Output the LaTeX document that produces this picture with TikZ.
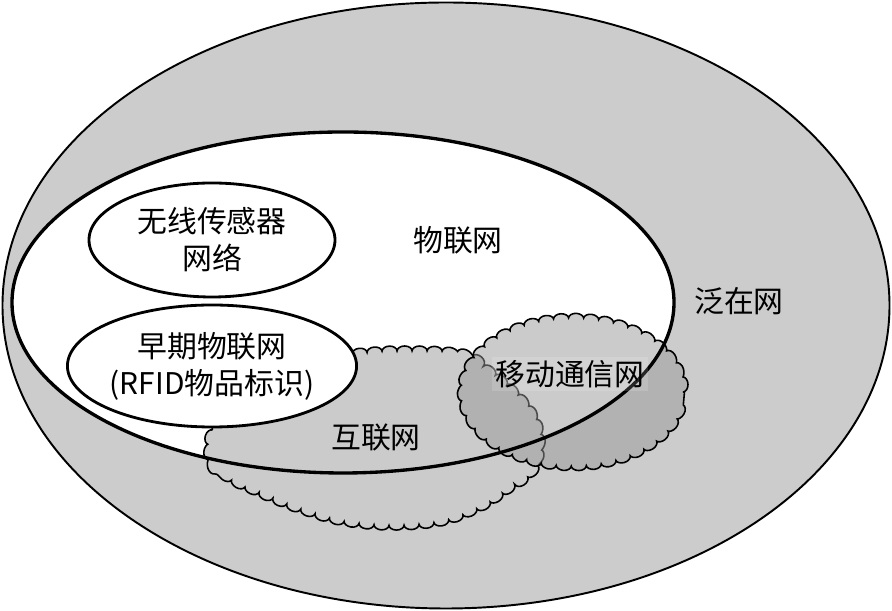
\documentclass[tikz,border=0pt]{standalone}
\usepackage{fontspec}
\newfontfamily\cjk{Noto Sans CJK SC}
\usetikzlibrary{shapes.geometric,decorations.pathmorphing}
\definecolor{ubiq}{HTML}{CCCCCC}
\definecolor{netgray}{HTML}{CBCBCB}
\tikzset{
  font=\cjk\fontsize{17}{21}\selectfont,
  ring/.style={draw=black, line width=1.9pt},
  subnet/.style={ellipse, draw=black, line width=1.6pt, fill=white,
                 minimum width=4.92cm, minimum height=2.28cm, inner sep=0pt,
                 align=center},
  puffy/.style={draw=black, line width=.9pt, decorate,
                decoration={bumps, segment length=6mm, amplitude=-1mm}},
  tag/.style={inner sep=1pt, align=center}
}
\begin{document}
\begin{tikzpicture}
\useasboundingbox (0,0) rectangle (17.84,12.22);

% Ubiquitous network: the whole grey field.
\draw[fill=ubiq, draw=black, line width=1.1pt]
  (8.92,6.11) ellipse [x radius=8.87cm, y radius=6.06cm];

% IoT area, outline drawn later over the clouds.
\fill[white] (6.86,6.17) ellipse [x radius=6.62cm, y radius=3.41cm];

% Internet cloud, opaque.
\path[puffy, fill=netgray] plot[smooth cycle, tension=.6] coordinates {
  (4.65,4.30) (4.25,3.62) (4.22,3.00) (4.60,2.66) (5.18,2.38) (5.92,2.08)
  (6.80,1.82) (7.80,1.72) (8.80,1.80) (9.58,2.08) (10.12,2.42) (10.58,2.74)
  (10.78,3.18) (10.74,3.70) (10.46,4.18) (9.88,4.72) (9.28,5.12) (8.00,5.20)
  (6.66,5.12) (5.20,5.10)};

% Mobile network cloud, see-through.
\path[puffy, fill=black!40, fill opacity=.5]
  (11.46,4.38) ellipse [x radius=2.2cm, y radius=1.47cm];

\draw[ring] (6.86,6.17) ellipse [x radius=6.62cm, y radius=3.41cm];

% Sub-networks inside the IoT.
\node[subnet] (wsn) at (4.24,7.42) {无线传感器\\网络};
\node[subnet, minimum height=2.44cm] (rfid) at (4.24,4.90)
  {早期物联网\\(RFID物品标识)};

% Labels.
\node[tag] (iot) at (9.16,7.42) {物联网};
\node[tag] (ubn) at (14.78,6.20) {泛在网};
\node[tag, fill=white, fill opacity=.15, text opacity=1, inner sep=2pt]
  (mobile) at (11.40,4.74) {移动通信网};
\node[tag] (inet) at (7.52,3.46) {互联网};

\end{tikzpicture}
\end{document}
